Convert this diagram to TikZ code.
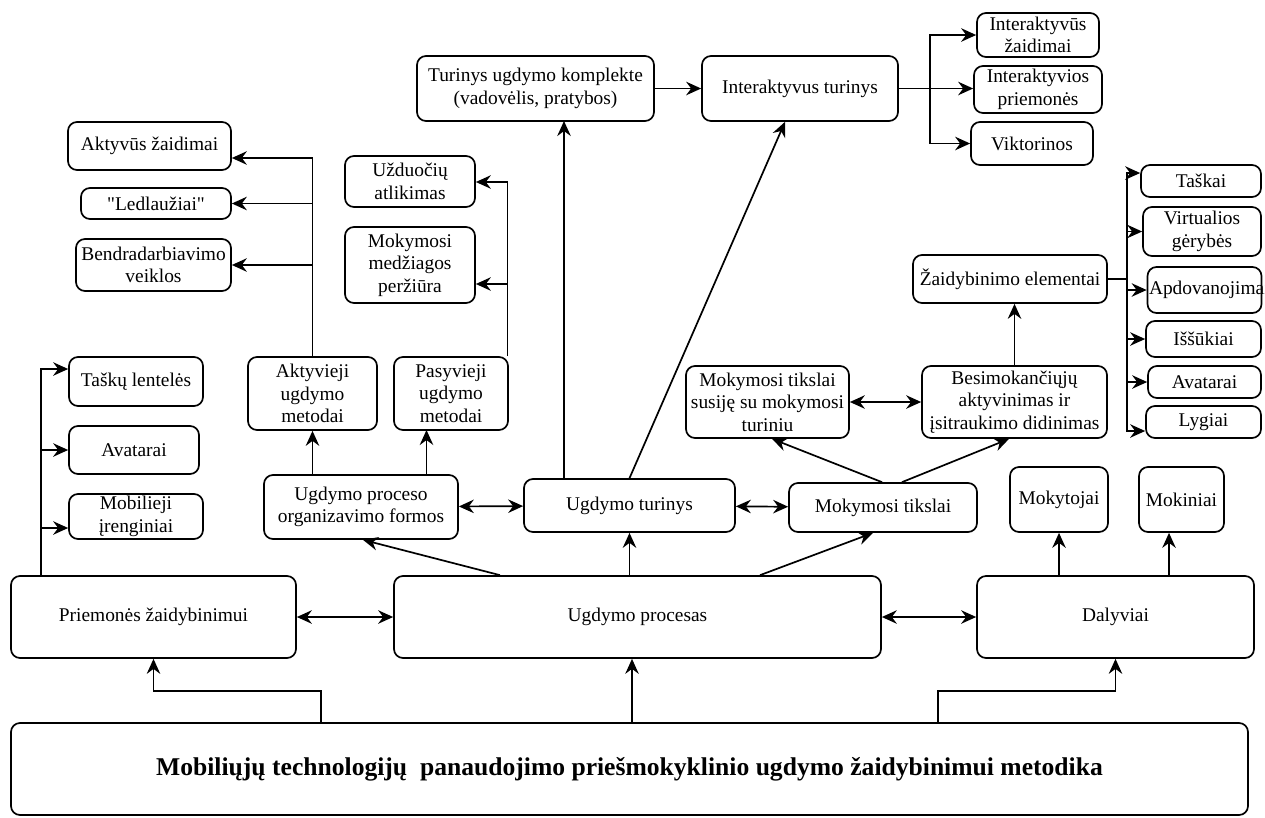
\documentclass[tikz,border=0pt]{standalone}
\usepackage{fontspec}
\setmainfont{Liberation Serif}
\usetikzlibrary{arrows.meta}
\begin{document}
\begin{tikzpicture}[x=1pt,y=-1pt,
  box/.style={draw, line width=1.7pt, rounded corners=9pt, inner sep=0pt, align=center,
              font=\fontsize{19.4}{22.5}\selectfont},
  sz/.style 2 args={minimum width=#1pt, minimum height=#2pt},
  tip/.tip={Stealth[length=15pt,width=13.5pt,inset=5pt]},
  arr/.style={-tip, line width=1.7pt},
  darr/.style={tip-tip, line width=1.7pt},
  base/.style={-tip, line width=1.2pt}
]
\useasboundingbox (0,0) rectangle (1265,817);

% ---- content branch (top) ----
\node[box,sz={237}{65}] (turkompl) at (535.5,88.5) {Turinys ugdymo komplekte\\(vadovėlis, pratybos)};
\node[box,sz={196}{65}] (inter) at (800,88.5) {Interaktyvus turinys};
\node[box,sz={122}{44}] (izaid) at (1038,35) {Interaktyvūs\\žaidimai};
\node[box,sz={128}{47}] (ipriem) at (1038,89.5) {Interaktyvios\\priemonės};
\node[box,sz={122}{43}] (viktor) at (1032,143.5) {Viktorinos};

% ---- teaching methods ----
\node[box,sz={163}{48}] (aktzaid) at (149.5,146) {Aktyvūs žaidimai};
\node[box,sz={150}{31}] (ledl) at (156,203.5) {\textquotedbl Ledlaužiai\textquotedbl};
\node[box,sz={155}{52}] (bendr) at (153.5,265) {Bendradarbiavimo\\veiklos};
\node[box,sz={130}{51}] (uzd) at (410,181.5) {Užduočių\\atlikimas};
\node[box,sz={130}{76}] (mokmed) at (410,265) {Mokymosi\\medžiagos\\peržiūra};
\node[box,sz={129}{73}] (aktyv) at (312.5,393.5) {Aktyvieji\\ugdymo\\metodai};
\node[box,sz={114}{73}] (pasyv) at (451,393.5) {Pasyvieji\\ugdymo\\metodai};
\node[box,sz={194}{64}] (orgf) at (361,507) {Ugdymo proceso\\organizavimo formos};

% ---- gamification tools ----
\node[box,sz={134}{49}] (tasku) at (136,381.5) {Taškų lentelės};
\node[box,sz={130}{48}] (avatL) at (134,450) {Avatarai};
\node[box,sz={134}{45}] (mobil) at (136,516.5) {Mobilieji\\įrenginiai};

% ---- content and goals ----
\node[box,sz={211}{53}] (ugtur) at (629.5,505.5) {Ugdymo turinys};
\node[box,sz={188}{49}] (moktiks) at (883,507.5) {Mokymosi tikslai};
\node[box,sz={163}{72}] (mokts) at (767.5,402) {Mokymosi tikslai\\susiję su mokymosi\\turiniu};
\node[box,sz={185}{72}] (besim) at (1014.5,402) {Besimokančiųjų\\aktyvinimas ir\\įsitraukimo didinimas};
\node[box,sz={194}{48}] (zaidel) at (1010,279) {Žaidybinimo elementai};

% ---- gamification elements ----
\node[box,sz={120}{32}] (taskai) at (1201,181) {Taškai};
\node[box,sz={118}{49}] (virt) at (1202,231.5) {Virtualios\\gėrybės};
\node[box,sz={114}{46}] (apdov) at (1204.5,290) {\makebox[0pt][l]{\hspace{-55.5pt}Apdovanojimai}};
\node[box,sz={115}{36}] (issuk) at (1203.5,339) {Iššūkiai};
\node[box,sz={113}{32}] (avatR) at (1204.5,382) {Avatarai};
\node[box,sz={115}{32}] (lyg) at (1203.5,422) {Lygiai};

% ---- participants ----
\node[box,sz={98}{65}] (mokyt) at (1059,499.5) {Mokytojai};
\node[box,sz={85}{65}] (mokin) at (1181.5,499.5) {Mokiniai};

% ---- main row ----
\node[box,sz={285}{82}] (priem) at (153.5,617) {Priemonės žaidybinimui};
\node[box,sz={487}{82}] (procesas) at (637.5,617) {Ugdymo procesas};
\node[box,sz={277}{82}] (dalyv) at (1115.5,617) {Dalyviai};
\node[box,sz={1237}{92},font=\fontsize{25.6}{30}\selectfont\bfseries] (metod) at (629.5,769)
  {Mobiliųjų technologijų\ \ panaudojimo priešmokyklinio ugdymo žaidybinimui metodika};

% ---- connectors: content branch ----
\draw[arr] (turkompl) -- (inter);
\coordinate (jI) at (930,88.5);
\draw[arr] (inter.east) -- (inter.east -| ipriem.west);
\draw[arr] (jI) |- (izaid.west);
\draw[arr] (jI) |- (viktor.west);

% ---- connectors: methods ----
\coordinate (jA) at (312.5,158);
\draw[arr] (aktyv.north) -- (jA) -- (jA -| aktzaid.east);
\draw[arr] (jA |- ledl.east) -- (ledl.east);
\draw[arr] (jA |- bendr.east) -- (bendr.east);

\coordinate (jP) at (507.5,182);
\coordinate (jM) at (507.5,284);
\draw[arr] (jP |- pasyv.north) -- (jP) -- (jP -| uzd.east);
\draw[arr] (jM) -- (jM -| mokmed.east);

\draw[arr] (aktyv.south |- orgf.north) -- (aktyv.south);
\coordinate (pIn) at (426.5,430);
\draw[arr] (pIn |- orgf.north) -- (pIn);

\draw[darr] (orgf) -- (ugtur);
\draw[darr] (ugtur) -- (moktiks);
\coordinate (kIn) at (564,121);
\draw[arr] (kIn |- ugtur.north) -- (kIn);
\draw[arr] (ugtur.north) -- ([xshift=-15pt]inter.south);
\draw[arr] ([xshift=-1pt]moktiks.north) -- ([xshift=4.5pt]mokts.south);
\draw[arr] ([xshift=19pt]moktiks.north) -- ([xshift=-5.5pt]besim.south);
\draw[darr] (mokts) -- (besim);
\draw[arr] (besim.north) -- (besim.north |- zaidel.south);

% ---- connectors: gamification elements ----
\coordinate (jZ) at (1127,279);
\draw[line width=1.7pt] (zaidel.east) -- (jZ);
\draw[arr] (jZ) |- ([yshift=8pt]taskai.west);
\draw[arr] (jZ) |- (virt.west);
\draw[arr] (jZ |- apdov.west) -- (apdov.west);
\draw[arr] (jZ |- issuk.west) -- (issuk.west);
\draw[arr] (jZ |- avatR.west) -- (avatR.west);
\draw[arr] (jZ) |- ([yshift=-9pt]lyg.west);

% ---- connectors: gamification tools ----
\coordinate (jT) at (41,369);
\coordinate (mobIn) at ([yshift=-11.5pt]mobil.west);
\draw[arr] (jT |- priem.north) -- (jT) -- (jT -| tasku.west);
\draw[arr] (jT |- avatL.west) -- (avatL.west);
\draw[arr] (jT |- mobIn) -- (mobIn);

% ---- connectors: participants ----
\coordinate (mkIn) at ([xshift=-12.5pt]mokin.south);
\draw[arr] (mokyt.south |- dalyv.north) -- (mokyt.south);
\draw[arr] (mkIn |- dalyv.north) -- (mkIn);

% ---- connectors: main row ----
\draw[darr] (priem) -- (procesas);
\draw[darr] (procesas) -- (dalyv);
\draw[arr] ([xshift=-137.5pt]procesas.north) -- ([xshift=2pt]orgf.south);
\draw[arr] (ugtur.south |- procesas.north) -- (ugtur.south);
\draw[arr] ([xshift=122.5pt]procesas.north) -- ([xshift=-10pt]moktiks.south);

% ---- connectors from the method box ----
\coordinate (b1) at (321,691);
\coordinate (b2) at (632,691);
\coordinate (b3) at (938,691);
\draw[base] (b1 |- metod.north) -- (b1) -| (priem.south);
\draw[base] (b2 |- metod.north) -- (b2 |- procesas.south);
\draw[base] (b3 |- metod.north) -- (b3) -| (dalyv.south);
\end{tikzpicture}
\end{document}
